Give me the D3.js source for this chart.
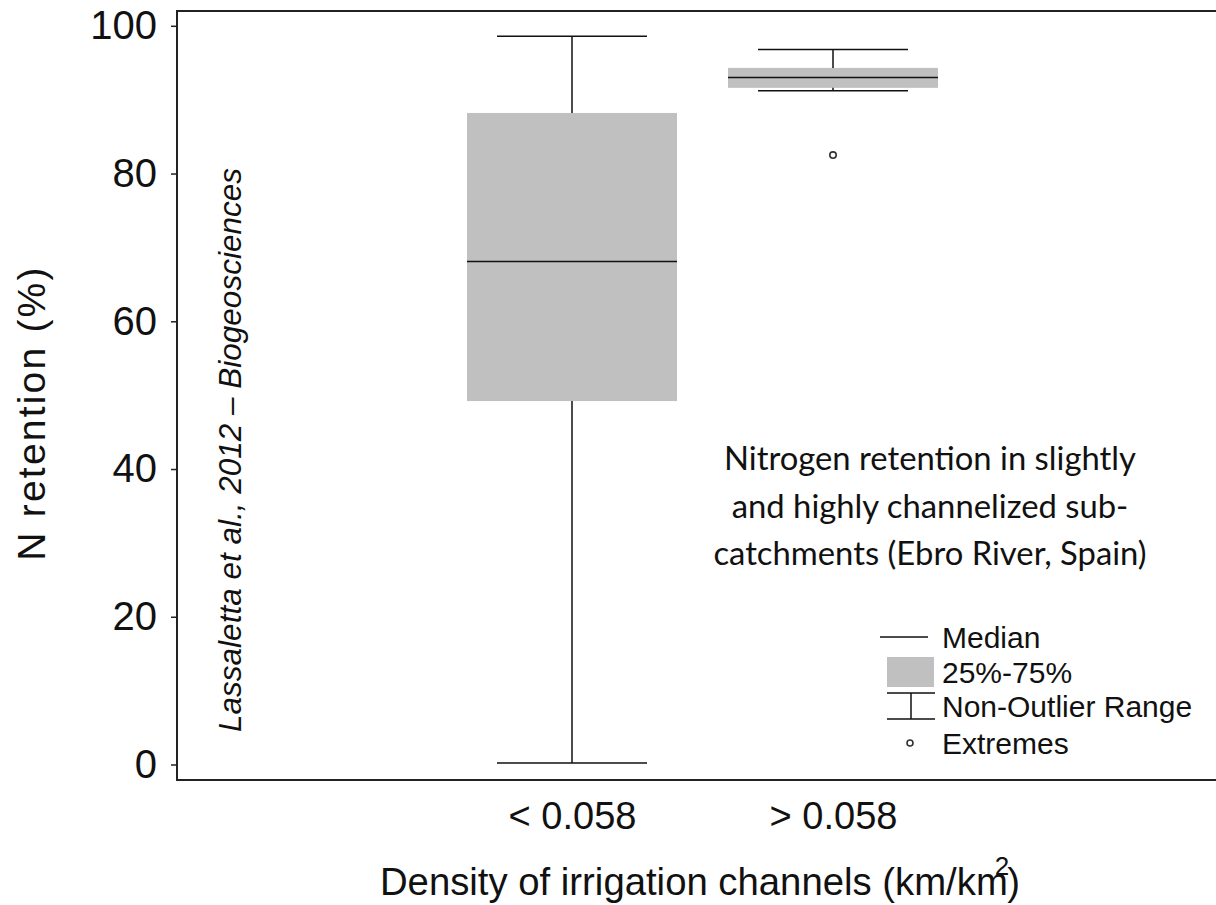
<!DOCTYPE html>
<html>
  <head>
    <meta charset="UTF-8">
    <title>N retention box plot</title>
    <style type="text/css">
      body { margin: 0; background: #fff; }
      text { font-family: "Liberation Sans", Arial, sans-serif; fill: #111; }
      .note { font-family: Lato, "Open Sans", sans-serif; }
    </style>
  </head>
  <body>
    <script src="https://cdn.jsdelivr.net/npm/d3@7"></script>
    <script>

      // Data
      var categories  = ["< 0.058", "> 0.058"];
      var whiskerLow  = [0.2, 91.2];
      var q1          = [49.2, 91.6];
      var median      = [68.1, 93.0];
      var q3          = [88.2, 94.3];
      var whiskerHigh = [98.6, 96.8];
      var extremes    = [[], [82.5]];

      var yTicks = [0, 20, 40, 60, 80, 100];
      var legendLabels = ["Median", "25%-75%", "Non-Outlier Range", "Extremes"];
      var noteLines = ["Nitrogen retention in slightly",
                       "and highly channelized sub-",
                       "catchments (Ebro River, Spain)"];

      var svgWidth = 1216,
          svgHeight = 905;

      var frame = {left: 177, top: 11, right: 1216, bottom: 780};

      var svg = d3.select("body")
                  .append("svg")
                  .attr("width", svgWidth)
                  .attr("height", svgHeight);

      // Scales
      var yScale = d3.scaleLinear()
                     .domain([0, 100])
                     .range([764.5, 25.8]);

      var xScale = d3.scalePoint()
                     .domain(categories)
                     .range([572, 833]);

      var boxWidth = 210,
          capWidth = 150,
          lineColor = "#111",
          boxColor = "#c0c0c0";

      // Frame (left, top, bottom; no right side)
      svg.append("path")
         .attr("d", "M" + frame.right + "," + frame.top + "H" + frame.left +
                    "V" + frame.bottom + "H" + frame.right)
         .attr("fill", "none")
         .attr("stroke", "#222")
         .attr("stroke-width", 2);

      // Y axis
      var yAxis = d3.axisLeft(yScale)
                    .tickValues(yTicks)
                    .tickSize(6)
                    .tickPadding(14);

      var gY = svg.append("g")
                  .attr("transform", "translate(" + frame.left + ",0)")
                  .call(yAxis);
      gY.select(".domain").remove();
      gY.selectAll(".tick line").attr("stroke", "#222").attr("stroke-width", 1.5);
      gY.selectAll(".tick text")
        .attr("font-size", 40)
        .attr("font-family", "'Liberation Sans', Arial, sans-serif")
        .attr("fill", "#111");

      // X axis labels (no ticks)
      var xAxis = d3.axisBottom(xScale)
                    .tickSize(0)
                    .tickPadding(22);
      var gX = svg.append("g")
                  .attr("transform", "translate(0," + frame.bottom + ")")
                  .call(xAxis);
      gX.select(".domain").remove();
      gX.selectAll(".tick text")
        .attr("font-size", 38)
        .attr("font-family", "'Liberation Sans', Arial, sans-serif")
        .attr("fill", "#111");

      // Box plots
      var boxes = svg.selectAll("g.box")
                     .data(categories)
                     .enter()
                     .append("g")
                     .attr("class", "box");

      boxes.append("rect")
           .attr("x", d => xScale(d) - boxWidth / 2)
           .attr("width", boxWidth)
           .attr("y", (d, i) => yScale(q3[i]))
           .attr("height", (d, i) => yScale(q1[i]) - yScale(q3[i]))
           .attr("fill", boxColor);

      // whisker stems
      boxes.append("line")
           .attr("x1", d => xScale(d)).attr("x2", d => xScale(d))
           .attr("y1", (d, i) => yScale(q3[i]))
           .attr("y2", (d, i) => yScale(whiskerHigh[i]))
           .attr("stroke", lineColor).attr("stroke-width", 1.5);
      boxes.append("line")
           .attr("x1", d => xScale(d)).attr("x2", d => xScale(d))
           .attr("y1", (d, i) => yScale(q1[i]))
           .attr("y2", (d, i) => yScale(whiskerLow[i]))
           .attr("stroke", lineColor).attr("stroke-width", 1.5);

      // caps
      [whiskerHigh, whiskerLow].forEach(function(arr) {
        boxes.append("line")
             .attr("x1", d => xScale(d) - capWidth / 2)
             .attr("x2", d => xScale(d) + capWidth / 2)
             .attr("y1", (d, i) => yScale(arr[i]))
             .attr("y2", (d, i) => yScale(arr[i]))
             .attr("stroke", lineColor).attr("stroke-width", 1.5);
      });

      // median
      boxes.append("line")
           .attr("x1", d => xScale(d) - boxWidth / 2)
           .attr("x2", d => xScale(d) + boxWidth / 2)
           .attr("y1", (d, i) => yScale(median[i]))
           .attr("y2", (d, i) => yScale(median[i]))
           .attr("stroke", lineColor).attr("stroke-width", 1.5);

      // extremes
      boxes.each(function(d, i) {
        d3.select(this).selectAll("circle")
          .data(extremes[i])
          .enter()
          .append("circle")
          .attr("cx", xScale(d))
          .attr("cy", v => yScale(v))
          .attr("r", 3.2)
          .attr("fill", "none")
          .attr("stroke", "#333")
          .attr("stroke-width", 1.6);
      });

      // Axis titles
      svg.append("text")
         .attr("transform", "translate(45,413) rotate(-90)")
         .attr("text-anchor", "middle")
         .attr("font-size", 39)
         .attr("letter-spacing", 2.2)
         .text("N retention (%)");

      var xTitle = svg.append("text")
                      .attr("x", 700)
                      .attr("y", 895)
                      .attr("text-anchor", "middle")
                      .attr("font-size", 38.3);
      xTitle.append("tspan").text("Density of irrigation channels (km/km");
      xTitle.append("tspan")
            .attr("dx", -13)
            .attr("dy", -20)
            .attr("font-size", 26)
            .text("2");
      xTitle.append("tspan")
            .attr("dy", 20)
            .attr("dx", -2)
            .text(")");

      // Rotated citation
      svg.append("text")
         .attr("transform", "translate(241,450) rotate(-90)")
         .attr("text-anchor", "middle")
         .attr("font-size", 31.5)
         .attr("font-style", "italic")
         .text("Lassaletta et al., 2012 \u2013 Biogeosciences");

      // Note
      svg.append("g")
         .selectAll("text")
         .data(noteLines)
         .enter()
         .append("text")
         .attr("class", "note")
         .attr("x", 930)
         .attr("y", (d, i) => 470 + i * 47.5)
         .attr("text-anchor", "middle")
         .attr("font-size", 32.8)
         .text(d => d);

      // Legend
      var legendY = [637, 672, 706, 743],
          legendTextX = 942;

      var legend = svg.append("g");

      legend.append("line")
            .attr("x1", 880).attr("x2", 928)
            .attr("y1", legendY[0]).attr("y2", legendY[0])
            .attr("stroke", lineColor).attr("stroke-width", 1.5);

      legend.append("rect")
            .attr("x", 887).attr("y", 657)
            .attr("width", 47).attr("height", 30)
            .attr("fill", boxColor);

      legend.append("path")
            .attr("d", "M887,693H935M911,693V719M887,719H935")
            .attr("fill", "none")
            .attr("stroke", lineColor).attr("stroke-width", 1.5);

      legend.append("circle")
            .attr("cx", 910).attr("cy", 743).attr("r", 3)
            .attr("fill", "none")
            .attr("stroke", "#333").attr("stroke-width", 1.6);

      legend.selectAll("text")
            .data(legendLabels)
            .enter()
            .append("text")
            .attr("x", legendTextX)
            .attr("y", (d, i) => legendY[i])
            .attr("dy", "0.36em")
            .attr("font-size", 30)
            .text(d => d);

    </script>
  </body>
</html>
